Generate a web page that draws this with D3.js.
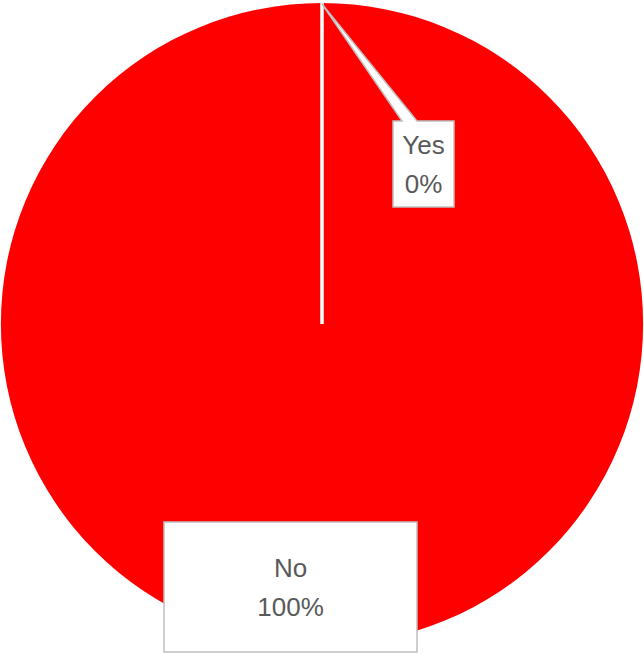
<!DOCTYPE html>
<html>
<head>
<meta charset="utf-8">
<script src="https://cdn.jsdelivr.net/npm/d3@7"></script>
<style>
  body { margin: 0; background: #fff; }
  text { font-family: "Liberation Sans", Arial, sans-serif; fill: #595959; }
</style>
</head>
<body>
<div id="chart"></div>
<script>
// data
var categories = ["Yes", "No"];
var values = [0, 100];
var percents = ["0%", "100%"];
var colors = ["#4472c4", "#ff0000"];

var width = 644, height = 654;
var cx = 322, cy = 324, radius = 321;

var svg = d3.select("#chart").append("svg")
    .attr("width", width)
    .attr("height", height);

var g = svg.append("g")
    .attr("transform", "translate(" + cx + "," + cy + ")");

var data = categories.map(function(c, i) { return {name: c, value: values[i], pct: percents[i], color: colors[i]}; });

var pie = d3.pie().sort(null).value(function(d) { return d.value; });
var arcs = pie(data);

var arc = d3.arc().innerRadius(0).outerRadius(radius);

g.selectAll("path.slice")
    .data(arcs)
    .enter()
    .append("path")
    .attr("class", "slice")
    .attr("d", arc)
    .attr("fill", function(d) { return d.data.color; });

// white slice borders
g.selectAll("line.sep")
    .data(arcs)
    .enter()
    .append("line")
    .attr("class", "sep")
    .attr("x1", 0).attr("y1", 0)
    .attr("x2", function(d) { return radius * Math.sin(d.startAngle); })
    .attr("y2", function(d) { return -radius * Math.cos(d.startAngle); })
    .attr("stroke", "#fff")
    .attr("stroke-width", 3);

// labels (callout boxes)
var labelBoxes = {
  Yes: {x: 71, y: -203, w: 61, h: 86, lead: true},
  No: {x: -158, y: 198, w: 253, h: 130, lead: false}
};

arcs.forEach(function(d) {
  var b = labelBoxes[d.data.name];
  var x0 = b.x, y0 = b.y, x1 = b.x + b.w, y1 = b.y + b.h;
  var p;
  if (b.lead) {
    // tip of the leader sits on the pie edge at the slice angle
    var mid = (d.startAngle + d.endAngle) / 2;
    var tx = (radius - 1) * Math.sin(mid), ty = -(radius - 1) * Math.cos(mid);
    p = "M" + x0 + "," + y0 + "L" + (x0 + 9) + "," + y0 + "L" + tx + "," + ty +
        "L" + (x0 + 24) + "," + y0 + "L" + x1 + "," + y0 + "L" + x1 + "," + y1 +
        "L" + x0 + "," + y1 + "Z";
  } else {
    p = "M" + x0 + "," + y0 + "H" + x1 + "V" + y1 + "H" + x0 + "Z";
  }
  g.append("path")
    .attr("d", p)
    .attr("fill", "#fff")
    .attr("stroke", "#bfbfbf")
    .attr("stroke-width", 1.5)
    .attr("stroke-linejoin", "miter");

  var mx = (x0 + x1) / 2, my = (y0 + y1) / 2;
  g.append("text")
    .attr("x", mx).attr("y", my - 19)
    .attr("text-anchor", "middle")
    .attr("dominant-baseline", "central")
    .style("font-size", "26px")
    .text(d.data.name);
  g.append("text")
    .attr("x", mx).attr("y", my + 20)
    .attr("text-anchor", "middle")
    .attr("dominant-baseline", "central")
    .style("font-size", "26px")
    .text(d.data.pct);
});
</script>
</body>
</html>
